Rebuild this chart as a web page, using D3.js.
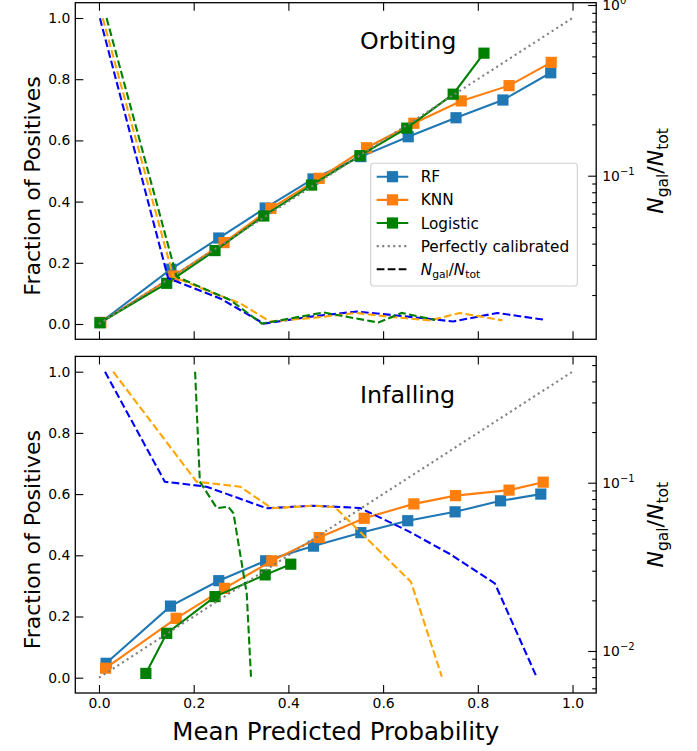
<!DOCTYPE html>
<html><head><meta charset="utf-8">
<script src="https://cdn.jsdelivr.net/npm/d3@7"></script>
<style>body{margin:0;background:#fff} svg{display:block} text{font-family:"DejaVu Sans",sans-serif;fill:#000}</style>
</head><body><svg id="c" width="697" height="751"></svg>
<script>
// ---------- data ----------
const probTicks = [0, 0.2, 0.4, 0.6, 0.8, 1.0];
const fracTicks = [0, 0.2, 0.4, 0.6, 0.8, 1.0];
const panelTitles = ["Orbiting", "Infalling"];
const modelNames = ["RF", "KNN", "Logistic"];

// Orbiting: calibration curves (mean predicted probability, fraction of positives)
const orbRFPred  = [0.003, 0.152, 0.253, 0.351, 0.452, 0.553, 0.653, 0.754, 0.853, 0.954];
const orbRFFrac  = [0.005, 0.179, 0.281, 0.379, 0.474, 0.547, 0.612, 0.674, 0.732, 0.821];
const orbKNNPred = [0.004, 0.158, 0.264, 0.363, 0.465, 0.565, 0.665, 0.765, 0.866, 0.955];
const orbKNNFrac = [0.005, 0.157, 0.266, 0.378, 0.476, 0.576, 0.656, 0.729, 0.779, 0.855];
const orbLogPred = [0.002, 0.143, 0.245, 0.348, 0.449, 0.551, 0.650, 0.748, 0.813];
const orbLogFrac = [0.004, 0.133, 0.240, 0.353, 0.454, 0.550, 0.640, 0.751, 0.885];
// Orbiting: N_gal/N_tot per bin
const orbRFNx  = [0.002, 0.146, 0.256, 0.348, 0.452, 0.545, 0.646, 0.748, 0.841, 0.942];
const orbRFN   = [0.836, 0.0251, 0.0191, 0.0136, 0.0150, 0.0160, 0.0150, 0.0140, 0.0157, 0.0143];
const orbKNNNx = [0.008, 0.157, 0.234, 0.298, 0.361, 0.452, 0.544, 0.615, 0.699, 0.762, 0.852];
const orbKNNN  = [0.836, 0.0256, 0.0209, 0.0179, 0.0140, 0.0147, 0.0157, 0.0149, 0.0142, 0.0157, 0.0142];
const orbLogNx = [0.016, 0.164, 0.277, 0.344, 0.474, 0.590, 0.639, 0.710];
const orbLogN  = [0.839, 0.0256, 0.0187, 0.0136, 0.0158, 0.0138, 0.0157, 0.0143];

// Infalling: calibration curves
const infRFPred  = [0.015, 0.151, 0.253, 0.352, 0.453, 0.553, 0.652, 0.752, 0.848, 0.933];
const infRFFrac  = [0.047, 0.234, 0.317, 0.382, 0.430, 0.474, 0.513, 0.542, 0.578, 0.600];
const infKNNPred = [0.014, 0.163, 0.265, 0.365, 0.465, 0.560, 0.665, 0.753, 0.866, 0.938];
const infKNNFrac = [0.031, 0.194, 0.292, 0.382, 0.458, 0.521, 0.568, 0.595, 0.613, 0.639];
const infLogPred = [0.099, 0.143, 0.245, 0.351, 0.405];
const infLogFrac = [0.014, 0.145, 0.265, 0.336, 0.371];
// Infalling: N_gal/N_tot per bin
const infRFNx  = [0.0127, 0.139, 0.227, 0.354, 0.453, 0.551, 0.653, 0.741, 0.836, 0.924];
const infRFN   = [0.4565, 0.1014, 0.0947, 0.0705, 0.0730, 0.0708, 0.0516, 0.0377, 0.0252, 0.00703];
const infKNNNx = [0.030, 0.206, 0.298, 0.365, 0.453, 0.498, 0.659, 0.724];
const infKNNN  = [0.4565, 0.1014, 0.0947, 0.0705, 0.0730, 0.0717, 0.0257, 0.00703];
const infLogNx = [0.203, 0.213, 0.249, 0.273, 0.284, 0.291, 0.312, 0.321];
const infLogN  = [0.4565, 0.1014, 0.0705, 0.0720, 0.0658, 0.0500, 0.0220, 0.00703];

const calibColors = ["#1f77b4", "#ff7f0e", "#008000"];
const countColors = ["#0000ff", "#ffa500", "#008000"];

// ---------- layout ----------
const svg = d3.select("#c");
const L = 75.3, R = 596.2;
const panelBoxes = [
  {top: 2.7, bottom: 339.3, logDomain: [Math.pow(10, -1.9584), Math.pow(10, 0.01347)]},
  {top: 356.4, bottom: 693.0, logDomain: [Math.pow(10, -2.2496), Math.pow(10, -0.2495)]}
];
const x = d3.scaleLinear().domain([-0.05, 1.05]).range([L, R]);

const panelData = [
  {
    calib: [[orbRFPred, orbRFFrac], [orbKNNPred, orbKNNFrac], [orbLogPred, orbLogFrac]],
    counts: [[orbRFNx, orbRFN], [orbKNNNx, orbKNNN], [orbLogNx, orbLogN]]
  },
  {
    calib: [[infRFPred, infRFFrac], [infKNNPred, infKNNFrac], [infLogPred, infLogFrac]],
    counts: [[infRFNx, infRFN], [infKNNNx, infKNNN], [infLogNx, infLogN]]
  }
];

const FS_TICK = 13.9, FS_LEG = 15.3, FS_YLABEL = 22, FS_XLABEL = 24.5;

function supLabel(sel, base, exp) {
  sel.text(null);
  sel.append("tspan").text(base);
  sel.append("tspan").attr("dy", -6).attr("font-size", 10).text(exp);
}

panelBoxes.forEach((pb, pi) => {
  const y = d3.scaleLinear().domain([-0.05, 1.05]).range([pb.bottom, pb.top]);
  const yr = d3.scaleLog().domain(pb.logDomain).range([pb.bottom, pb.top]);
  const g = svg.append("g");

  const cid = "clip" + pi;
  svg.append("clipPath").attr("id", cid).append("rect")
    .attr("x", L).attr("y", pb.top).attr("width", R - L).attr("height", pb.bottom - pb.top);
  const plot = g.append("g").attr("clip-path", `url(#${cid})`);

  // calibration curves
  const line = d3.line().x(d => x(d[0])).y(d => y(d[1]));
  panelData[pi].calib.forEach((s, mi) => {
    const pts = s[0].map((v, i) => [v, s[1][i]]);
    plot.append("path").attr("d", line(pts)).attr("fill", "none")
      .attr("stroke", calibColors[mi]).attr("stroke-width", 2.1);
    plot.selectAll(null).data(pts).enter().append("rect")
      .attr("x", d => x(d[0]) - 5.6).attr("y", d => y(d[1]) - 5.6)
      .attr("width", 11.2).attr("height", 11.2)
      .attr("fill", calibColors[mi]);
  });
  // perfectly calibrated
  plot.append("path").attr("d", line([[0, 0], [1, 1]])).attr("fill", "none")
    .attr("stroke", "#808080").attr("stroke-width", 2.1).attr("stroke-dasharray", "2.1,3.4");

  // N_gal / N_tot dashed (twin log axis)
  const lineN = d3.line().x(d => x(d[0])).y(d => yr(d[1]));
  panelData[pi].counts.forEach((s, mi) => {
    const pts = s[0].map((v, i) => [v, s[1][i]]);
    plot.append("path").attr("d", lineN(pts)).attr("fill", "none")
      .attr("stroke", countColors[mi]).attr("stroke-width", 2.1)
      .attr("stroke-dasharray", "7.7,3.3");
  });

  // axes (ticks inward)
  const ax = g.append("g");
  ax.append("g").attr("transform", `translate(${L},0)`)
    .call(d3.axisLeft(y).tickValues(fracTicks).tickFormat(d3.format(".1f"))
      .tickSizeInner(-8).tickSizeOuter(0).tickPadding(5));
  const bottom = ax.append("g").attr("transform", `translate(0,${pb.bottom})`)
    .call(d3.axisBottom(x).tickValues(probTicks).tickFormat(d3.format(".1f"))
      .tickSizeInner(-8).tickSizeOuter(0).tickPadding(5));
  if (pi === 0) bottom.selectAll("text").remove();
  ax.append("g").attr("transform", `translate(0,${pb.top})`)
    .call(d3.axisTop(x).tickValues(probTicks).tickSizeInner(-8).tickSizeOuter(0))
    .selectAll("text").remove();

  // right log axis
  const lo = pb.logDomain[0], hi = pb.logDomain[1];
  const majors = [], minors = [];
  for (let e = -3; e <= 0; e++) {
    for (let m = 1; m <= 9; m++) {
      const v = m * Math.pow(10, e);
      if (v >= lo && v <= hi) (m === 1 ? majors : minors).push(v);
    }
  }
  const right = ax.append("g").attr("transform", `translate(${R},0)`)
    .call(d3.axisRight(yr).tickValues(majors).tickFormat("")
      .tickSizeInner(-8).tickSizeOuter(0).tickPadding(5));
  right.selectAll(".tick text").each(function(d) {
    const e = Math.round(Math.log10(d));
    d3.select(this).attr("x", 6).attr("dy", "0.32em").attr("text-anchor", "start")
      .call(supLabel, "10", e === 0 ? "0" : "\u2212" + Math.abs(e));
  });
  ax.append("g").attr("transform", `translate(${R},0)`)
    .call(d3.axisRight(yr).tickValues(minors).tickFormat("")
      .tickSizeInner(-4).tickSizeOuter(0));

  ax.selectAll(".domain").remove();
  ax.selectAll("g").attr("font-size", null).attr("font-family", null);
  ax.selectAll(".tick line").attr("stroke", "#000").attr("stroke-width", 1.1);
  ax.selectAll(".tick > text").attr("fill", "#000")
    .style("font-family", "'DejaVu Sans', sans-serif").style("font-size", FS_TICK + "px");

  // frame
  g.append("rect").attr("x", L).attr("y", pb.top).attr("width", R - L)
    .attr("height", pb.bottom - pb.top).attr("fill", "none")
    .attr("stroke", "#000").attr("stroke-width", 1.3);

  // panel title
  g.append("text").attr("x", 360).attr("y", pi === 0 ? 48.5 : 402.5)
    .attr("font-size", 23.8).text(panelTitles[pi]);

  const cy = (pb.top + pb.bottom) / 2;
  g.append("text").attr("transform", `translate(40,${cy + 15}) rotate(-90)`)
    .attr("text-anchor", "middle").attr("font-size", FS_YLABEL).text("Fraction of Positives");
  const rl = g.append("text").attr("transform", `translate(663,${cy}) rotate(-90)`)
    .attr("text-anchor", "middle").attr("font-size", FS_YLABEL);
  rl.append("tspan").attr("font-style", "italic").text("N");
  rl.append("tspan").attr("font-size", 15.5).attr("dy", 5).text("gal");
  rl.append("tspan").attr("dy", -5).text("/");
  rl.append("tspan").attr("font-style", "italic").text("N");
  rl.append("tspan").attr("font-size", 15.5).attr("dy", 5).text("tot");

  // legend (top panel only)
  if (pi === 0) {
    const lg = g.append("g");
    lg.append("rect").attr("x", 370.7).attr("y", 163.3).attr("width", 206.6).attr("height", 122.7)
      .attr("rx", 3).attr("fill", "#fff").attr("fill-opacity", 0.8)
      .attr("stroke", "#d0d0d0").attr("stroke-width", 1.1);
    const rows = [
      {label: modelNames[0], color: calibColors[0], type: "marker"},
      {label: modelNames[1], color: calibColors[1], type: "marker"},
      {label: modelNames[2], color: calibColors[2], type: "marker"},
      {label: "Perfectly calibrated", color: "#808080", type: "dot"},
      {label: "N", color: "#000", type: "dash"}
    ];
    rows.forEach((r, i) => {
      const yy = 176.7 + i * 23.15;
      const ln = lg.append("line").attr("x1", 376.7).attr("x2", 408.3).attr("y1", yy).attr("y2", yy)
        .attr("stroke", r.color).attr("stroke-width", 2.1);
      if (r.type === "dot") ln.attr("stroke-dasharray", "2.1,3.4");
      if (r.type === "dash") ln.attr("stroke-dasharray", "7.7,3.3");
      if (r.type === "marker") lg.append("rect").attr("x", 392.5 - 5.6).attr("y", yy - 5.6)
        .attr("width", 11.2).attr("height", 11.2).attr("fill", r.color);
      const t = lg.append("text").attr("x", 420.7).attr("y", yy + 5.5).attr("font-size", FS_LEG);
      if (r.type === "dash") {
        t.append("tspan").attr("font-style", "italic").text("N");
        t.append("tspan").attr("font-size", 10.8).attr("dy", 3.5).text("gal");
        t.append("tspan").attr("dy", -3.5).text("/");
        t.append("tspan").attr("font-style", "italic").text("N");
        t.append("tspan").attr("font-size", 10.8).attr("dy", 3.5).text("tot");
      } else t.text(r.label);
    });
  }
});

svg.append("text").attr("x", (L + R) / 2).attr("y", 740).attr("text-anchor", "middle")
  .attr("font-size", FS_XLABEL).text("Mean Predicted Probability");
</script></body></html>
